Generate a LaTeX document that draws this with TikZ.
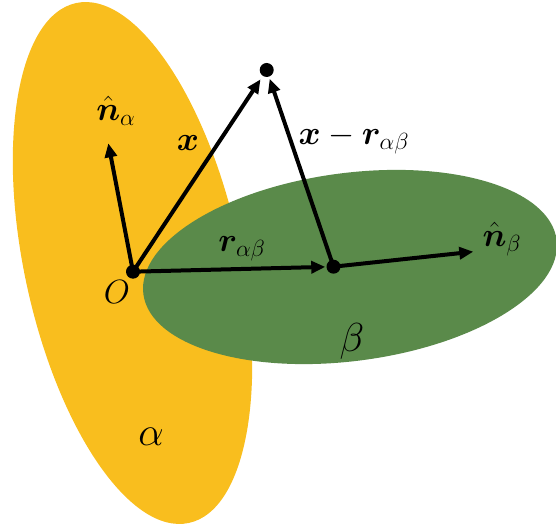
\documentclass[tikz,border=0pt]{standalone}
\usepackage{amsmath}
\usepackage{bm}
\usepackage{graphicx}
\usetikzlibrary{arrows.meta}
\definecolor{alphayellow}{RGB}{249,190,30}
\definecolor{betagreen}{RGB}{90,138,74}
\newcommand{\lblsz}[1]{\scalebox{1.62}{\huge #1}}
\newcommand{\biglblsz}[1]{\scalebox{1.95}{\huge #1}}
\tikzset{
  vec/.style={line width=4pt,-{Triangle[length=14pt,width=12pt]}},
  pt/.style={circle,fill=black,inner sep=0pt,minimum size=14pt},
  lbl/.style={inner sep=0pt}
}
\begin{document}
\begin{tikzpicture}[x=1pt,y=1pt]
\useasboundingbox (0,0) rectangle (556,529);
% surfaces
\fill[alphayellow,rotate around={12.25:(132.5,266)}] (132.5,266) ellipse [x radius=108, y radius=266];
\fill[betagreen,rotate around={7.5:(350,262)}] (350,262) ellipse [x radius=208.4, y radius=94];
% points
\node[pt] (O) at (133,257.3) {};
\node[pt] (P) at (266.7,459) {};
\node[pt] (M) at (333.5,262.3) {};
\coordinate (na) at (108.3,385.7);
\coordinate (nb) at (473.3,277.3);
% vectors
\draw[vec] (O.center) -- (na);
\draw[vec,shorten >=4pt] (O.center) -- (P);
\draw[vec,shorten >=1pt] (O.center) -- (M);
\draw[vec,shorten >=2pt] (M.center) -- (P);
\draw[vec] (M.center) -- (nb);
% labels
\node[lbl] (lna) at (116,418) {\lblsz{$\hat{\bm{n}}_{\alpha}$}};
\node[lbl] (lx) at (188,386) {\lblsz{$\bm{x}$}};
\node[lbl] (lxr) at (354,390) {\lblsz{$\bm{x}-\bm{r}_{\alpha\beta}$}};
\node[lbl] (lr) at (242,280) {\lblsz{$\bm{r}_{\alpha\beta}$}};
\node[lbl] (lnb) at (502,290) {\lblsz{$\hat{\bm{n}}_{\beta}$}};
\node[lbl] (lO) at (117,237) {\lblsz{$O$}};
\node[lbl] (lb) at (352,188) {\biglblsz{$\beta$}};
\node[lbl] (la) at (151,92) {\biglblsz{$\alpha$}};
\end{tikzpicture}
\end{document}
